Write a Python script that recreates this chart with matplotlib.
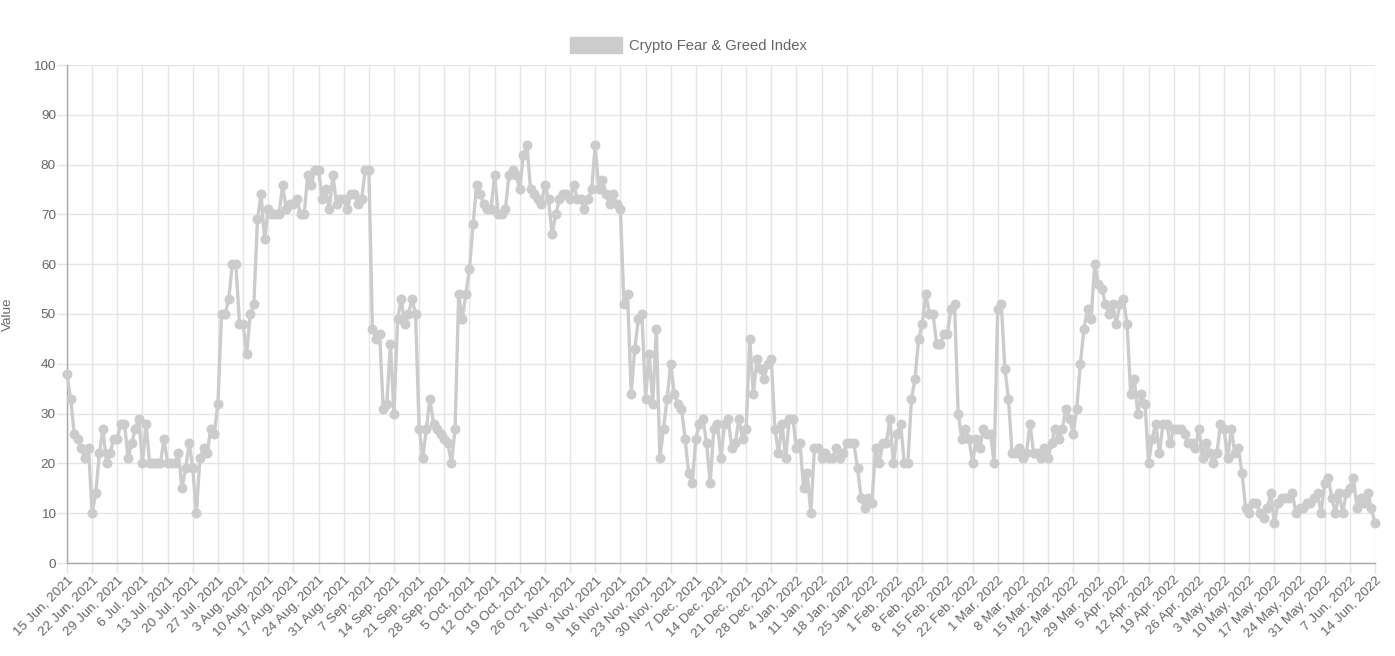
import matplotlib
matplotlib.use("Agg")
import matplotlib.pyplot as plt
from matplotlib.patches import Patch
import pandas as pd

# ---- data (daily values, 15 Jun 2021 .. 14 Jun 2022) ----
jun_2021 = [38, 33, 26, 25, 23, 21, 23, 10, 14, 22, 27, 20, 22, 25, 25, 28]
jul_2021 = [28, 21, 24, 27, 29, 20, 28, 20, 20, 20, 20, 25, 20, 20, 20, 22,
            15, 19, 24, 19, 10, 21, 23, 22, 27, 26, 32, 50, 50, 53, 60]
aug_2021 = [60, 48, 48, 42, 50, 52, 69, 74, 65, 71, 70, 70, 70, 76, 71, 72,
            72, 73, 70, 70, 78, 76, 79, 79, 73, 75, 71, 78, 72, 73, 73]
sep_2021 = [71, 74, 74, 72, 73, 79, 79, 47, 45, 46, 31, 32, 44, 30, 49, 53,
            48, 50, 53, 50, 27, 21, 27, 33, 28, 27, 26, 25, 24, 20]
oct_2021 = [27, 54, 49, 54, 59, 68, 76, 74, 72, 71, 71, 78, 70, 70, 71, 78,
            79, 78, 75, 82, 84, 75, 74, 73, 72, 76, 73, 66, 70, 73, 74]
nov_2021 = [74, 73, 76, 73, 73, 71, 73, 75, 84, 75, 77, 74, 72, 74, 72, 71,
            52, 54, 34, 43, 49, 50, 33, 42, 32, 47, 21, 27, 33, 40]
dec_2021 = [34, 32, 31, 25, 18, 16, 25, 28, 29, 24, 16, 27, 28, 21, 28, 29,
            23, 24, 29, 25, 27, 45, 34, 41, 39, 37, 40, 41, 27, 22, 28]
jan_2022 = [21, 29, 29, 23, 24, 15, 18, 10, 23, 23, 21, 22, 21, 21, 23, 21,
            22, 24, 24, 24, 19, 13, 11, 13, 12, 23, 20, 24, 24, 29, 20]
feb_2022 = [26, 28, 20, 20, 33, 37, 45, 48, 54, 50, 50, 44, 44, 46, 46, 51,
            52, 30, 25, 27, 25, 20, 25, 23, 27, 26, 26, 20]
mar_2022 = [51, 52, 39, 33, 22, 22, 23, 21, 22, 28, 22, 22, 21, 23, 21, 24,
            27, 25, 27, 31, 29, 26, 31, 40, 47, 51, 49, 60, 56, 55, 52]
apr_2022 = [50, 52, 48, 52, 53, 48, 34, 37, 30, 34, 32, 20, 25, 28, 22, 28,
            28, 24, 27, 27, 27, 26, 24, 24, 23, 27, 21, 24, 22, 20]
may_2022 = [22, 28, 27, 21, 27, 22, 23, 18, 11, 10, 12, 12, 10, 9, 11, 14,
            8, 12, 13, 13, 13, 14, 10, 11, 11, 12, 12, 13, 14, 10, 16]
jun_2022 = [17, 13, 10, 14, 10, 14, 15, 17, 11, 13, 12, 14, 11, 8]

values = (jun_2021 + jul_2021 + aug_2021 + sep_2021 + oct_2021 + nov_2021 +
          dec_2021 + jan_2022 + feb_2022 + mar_2022 + apr_2022 + may_2022 +
          jun_2022)
dates = pd.date_range("2021-06-15", periods=len(values), freq="D")
tick_step = 7
tick_labels = [f"{d.day} {d.strftime('%b')}, {d.year}" for d in dates[::tick_step]]
series_name = "Crypto Fear & Greed Index"
y_label = "Value"

# ---- styling ----
plt.rcParams["font.family"] = ["Liberation Sans", "DejaVu Sans"]
FS = 9.7        # ~13.5 px tick labels
FS_LEG = 10.6   # legend text
TXT = "#666666"
GRID = "#e5e5e5"
LINE = "#cccccc"

W, H = 1395, 656
fig = plt.figure(figsize=(W / 100, H / 100), dpi=100)
L, R, T, B = 67, 1375, 65, 563
ax = fig.add_axes([L / W, 1 - B / H, (R - L) / W, (B - T) / H])

x = list(range(len(values)))
ax.plot(x, values, color=LINE, linewidth=2.4, marker="o", markersize=6.2,
        markerfacecolor=LINE, markeredgecolor=LINE, solid_joinstyle="round",
        zorder=3, clip_on=False)

ax.set_xlim(0, len(values) - 1)
ax.set_ylim(0, 100)
ax.set_yticks(range(0, 101, 10))
ax.set_xticks(x[::tick_step])
ax.set_xticklabels(tick_labels, rotation=45, ha="right", rotation_mode="anchor")

ax.grid(True, color=GRID, linewidth=1.0, zorder=0)
ax.set_axisbelow(True)
for side in ["top", "right"]:
    ax.spines[side].set_visible(False)
for side in ["left", "bottom"]:
    ax.spines[side].set_color("#a8a8a8")
    ax.spines[side].set_linewidth(1.0)

ax.tick_params(axis="both", colors=GRID, labelcolor=TXT, labelsize=FS,
               length=7, width=1.0)
ax.tick_params(axis="y", pad=1)
ax.tick_params(axis="x", pad=1)

fig.text(8 / W, 1 - 314 / H, y_label, rotation=90, ha="center", va="center",
         color=TXT, fontsize=FS)

fs_px = FS_LEG * 100 / 72
handle = Patch(facecolor=LINE, edgecolor=LINE)
fig.legend([handle], [series_name], loc="center left",
           bbox_to_anchor=(563 / W, 1 - 45 / H), frameon=False, borderpad=0,
           fontsize=FS_LEG, labelcolor=TXT, handlelength=52 / fs_px,
           handleheight=18 / fs_px, handletextpad=7 / fs_px)

fig.savefig("out.png", dpi=100)
